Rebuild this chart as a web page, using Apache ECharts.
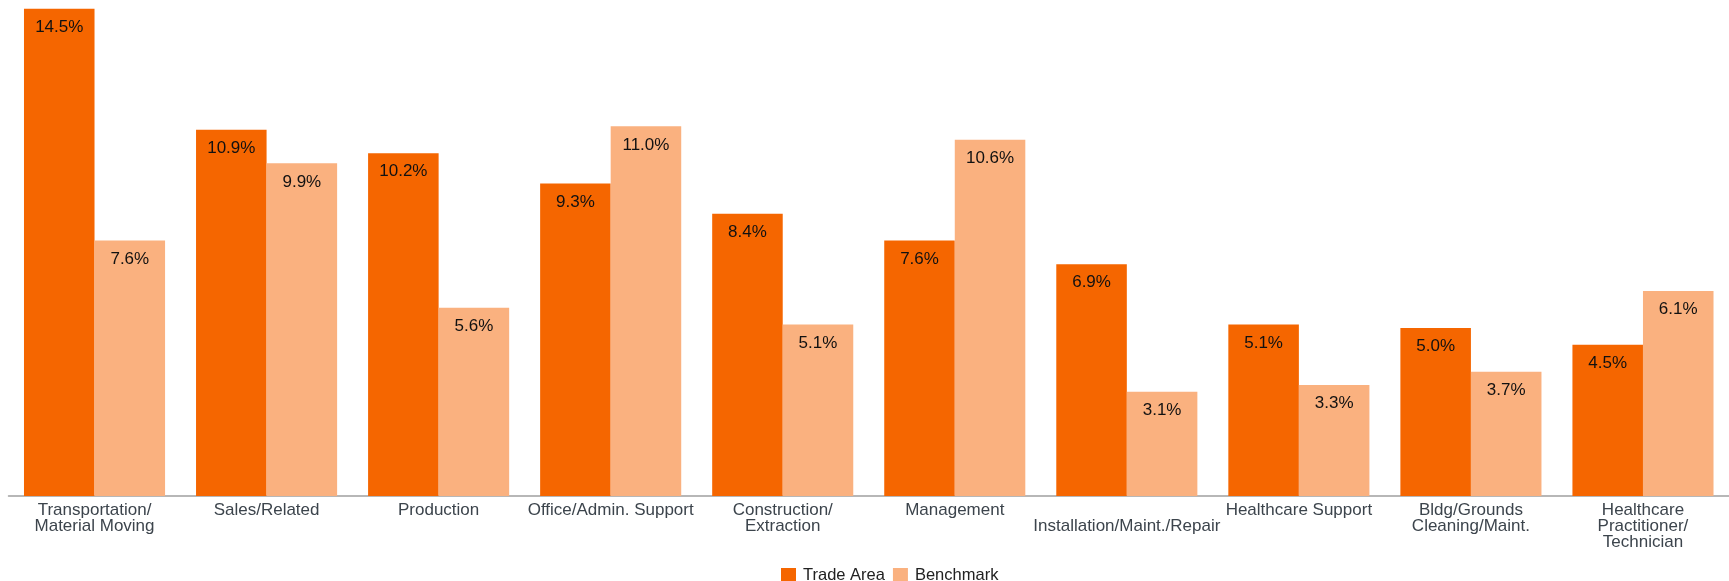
<!DOCTYPE html>
<html>
<head>
<meta charset="utf-8">
<script src="https://cdn.jsdelivr.net/npm/echarts@6/dist/echarts.min.js"></script>
<style>
  html, body { margin: 0; padding: 0; background: #ffffff; }
  #chart { width: 1729px; height: 581px; }
</style>
</head>
<body>
<div id="chart"></div>
<script>
// occupation categories (line breaks as in the original labels)
var categories = [
  'Transportation/\nMaterial Moving',
  'Sales/Related',
  'Production',
  'Office/Admin. Support',
  'Construction/\nExtraction',
  'Management',
  '\nInstallation/Maint./Repair',
  'Healthcare Support',
  'Bldg/Grounds\nCleaning/Maint.',
  'Healthcare\nPractitioner/\nTechnician'
];
var tradeArea = [14.5, 10.9, 10.2, 9.3, 8.4, 7.6, 6.9, 5.1, 5.0, 4.5];
var benchmark = [7.6, 9.9, 5.6, 11.0, 5.1, 10.6, 3.1, 3.3, 3.7, 6.1];

var colors = { trade: '#f56600', bench: '#fab17f' };

var chart = echarts.init(document.getElementById('chart'));

var labelStyle = {
  show: true,
  position: 'insideTop',
  distance: 10,
  color: '#111111',
  fontSize: 17,
  fontFamily: 'Liberation Sans, Arial, sans-serif',
  formatter: function (p) { return p.value.toFixed(1) + '%'; }
};

chart.setOption({
  animation: false,
  grid: { left: 8.5, right: -14, top: 0, bottom: 85, containLabel: false },
  legend: {
    left: 776,
    top: 562,
    itemWidth: 15,
    itemHeight: 15,
    itemGap: 8,
    icon: 'rect',
    textStyle: { color: '#222222', fontSize: 16.5, fontFamily: 'Liberation Sans, Arial, sans-serif', padding: [0, 0, 0, 2] },
    data: ['Trade Area', 'Benchmark']
  },
  xAxis: {
    type: 'category',
    data: categories,
    axisLine: { lineStyle: { color: '#a0a0a0', width: 1.5 } },
    axisTick: { show: false },
    axisLabel: {
      interval: 0,
      margin: 6,
      color: '#3c444c',
      fontSize: 17,
      lineHeight: 16,
      fontFamily: 'Liberation Sans, Arial, sans-serif'
    }
  },
  yAxis: {
    type: 'value',
    min: 0,
    max: 14.76,
    show: false,
    splitLine: { show: false }
  },
  series: [
    {
      name: 'Trade Area',
      type: 'bar',
      data: tradeArea,
      barGap: '0%',
      barCategoryGap: '18%',
      itemStyle: { color: colors.trade },
      label: labelStyle
    },
    {
      name: 'Benchmark',
      type: 'bar',
      data: benchmark,
      barGap: '0%',
      barCategoryGap: '18%',
      itemStyle: { color: colors.bench },
      label: labelStyle
    }
  ]
});
</script>
</body>
</html>
